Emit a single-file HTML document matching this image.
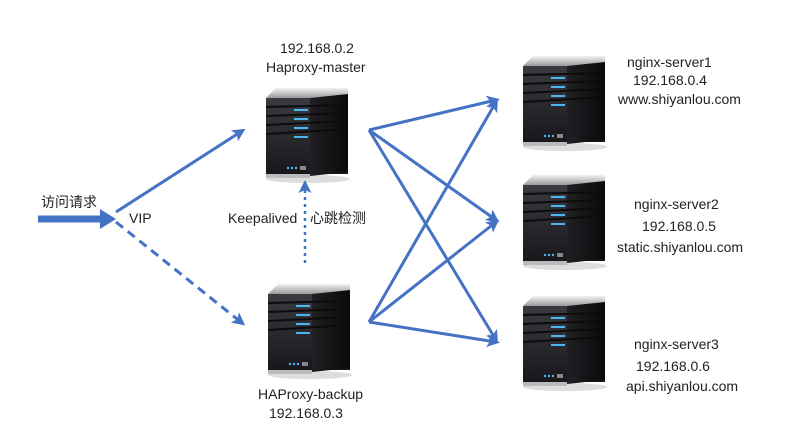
<!DOCTYPE html>
<html><head><meta charset="utf-8"><style>
html,body{margin:0;padding:0;background:#fff;}
body{width:802px;height:426px;overflow:hidden;}
text{font-family:"Liberation Sans","Noto Sans CJK SC",sans-serif;font-size:14px;fill:#222;}
</style></head><body>
<svg width="802" height="426" viewBox="0 0 802 426" xmlns="http://www.w3.org/2000/svg">
<defs>
<linearGradient id="top" x1="0" y1="0" x2="0" y2="1"><stop offset="0" stop-color="#f2f2f2"/><stop offset="1" stop-color="#9a9a9a"/></linearGradient>
<linearGradient id="front" x1="0" y1="0" x2="0" y2="1"><stop offset="0" stop-color="#3a3a40"/><stop offset="1" stop-color="#18181c"/></linearGradient>
<linearGradient id="side" x1="0" y1="0" x2="1" y2="0"><stop offset="0" stop-color="#202024"/><stop offset="1" stop-color="#0a0a0c"/></linearGradient>
<g id="srv">
<ellipse cx="44" cy="93" rx="42" ry="4" fill="#ddd"/>
<polygon points="2,12 12,2 84,2 84,12" fill="url(#top)"/>
<polygon points="2,12 84,12 84,88 2,88" fill="url(#front)"/>
<polygon points="46,12 84,8 84,86 46,90" fill="url(#side)"/>
<rect x="2" y="88" width="44" height="4" fill="#bbb"/>
<g stroke="#0c0c0e" stroke-width="2">
<line x1="2" y1="21" x2="84" y2="19"/><line x1="2" y1="30" x2="84" y2="27"/><line x1="2" y1="39" x2="84" y2="35"/><line x1="2" y1="48" x2="84" y2="43"/>
</g>
<g stroke="#49b8f0" stroke-width="2">
<line x1="30" y1="24" x2="44" y2="24"/><line x1="30" y1="33" x2="44" y2="33"/><line x1="30" y1="42" x2="44" y2="42"/><line x1="30" y1="51" x2="44" y2="51"/>
</g>
<g fill="#49b8f0"><circle cx="24" cy="82" r="1.2"/><circle cx="28" cy="82" r="1.2"/><circle cx="32" cy="82" r="1.2"/></g>
<rect x="36" y="80" width="6" height="4" fill="#888"/>
</g>
<marker id="ah" markerWidth="13" markerHeight="13" refX="9" refY="6.5" orient="auto" markerUnits="userSpaceOnUse"><polygon points="0,0 13,6.5 0,13 3,6.5" fill="#4472c4"/></marker>
</defs>
<use href="#srv" x="264" y="86"/>
<use href="#srv" x="266" y="282"/>
<use href="#srv" x="521" y="54"/>
<use href="#srv" x="521" y="173"/>
<use href="#srv" x="521" y="294"/>

<g stroke="#4472c4" stroke-width="3" fill="none">
<line x1="38" y1="219" x2="102" y2="219" stroke-width="7"/>
<line x1="116" y1="212" x2="242" y2="131" marker-end="url(#ah)"/>
<line x1="116" y1="222" x2="242" y2="323" stroke-dasharray="9,6" marker-end="url(#ah)"/>
<line x1="305" y1="263" x2="305" y2="184" stroke-dasharray="3,4" stroke-width="2.5" marker-end="url(#ah)"/>
<line x1="369" y1="130" x2="496" y2="100" marker-end="url(#ah)"/>
<line x1="369" y1="130" x2="496" y2="220" marker-end="url(#ah)"/>
<line x1="369" y1="130" x2="496" y2="340" marker-end="url(#ah)"/>
<line x1="369" y1="322" x2="496" y2="102" marker-end="url(#ah)"/>
<line x1="369" y1="322" x2="496" y2="222" marker-end="url(#ah)"/>
<line x1="369" y1="322" x2="496" y2="342" marker-end="url(#ah)"/>
</g>
<polygon points="100,209 116,219 100,229" fill="#4472c4"/>

<text x="41" y="207">访问请求</text>
<text x="129" y="223">VIP</text>
<text x="228" y="223">Keepalived</text>
<text x="310" y="223">心跳检测</text>
<text x="280" y="53">192.168.0.2</text>
<text x="266" y="72">Haproxy-master</text>
<text x="258" y="399">HAProxy-backup</text>
<text x="269" y="418">192.168.0.3</text>
<text x="627" y="67">nginx-server1</text>
<text x="633" y="85">192.168.0.4</text>
<text x="618" y="104">www.shiyanlou.com</text>
<text x="634" y="209">nginx-server2</text>
<text x="642" y="231">192.168.0.5</text>
<text x="617" y="252">static.shiyanlou.com</text>
<text x="634" y="349">nginx-server3</text>
<text x="636" y="371">192.168.0.6</text>
<text x="626" y="391">api.shiyanlou.com</text>
</svg>
</body></html>
